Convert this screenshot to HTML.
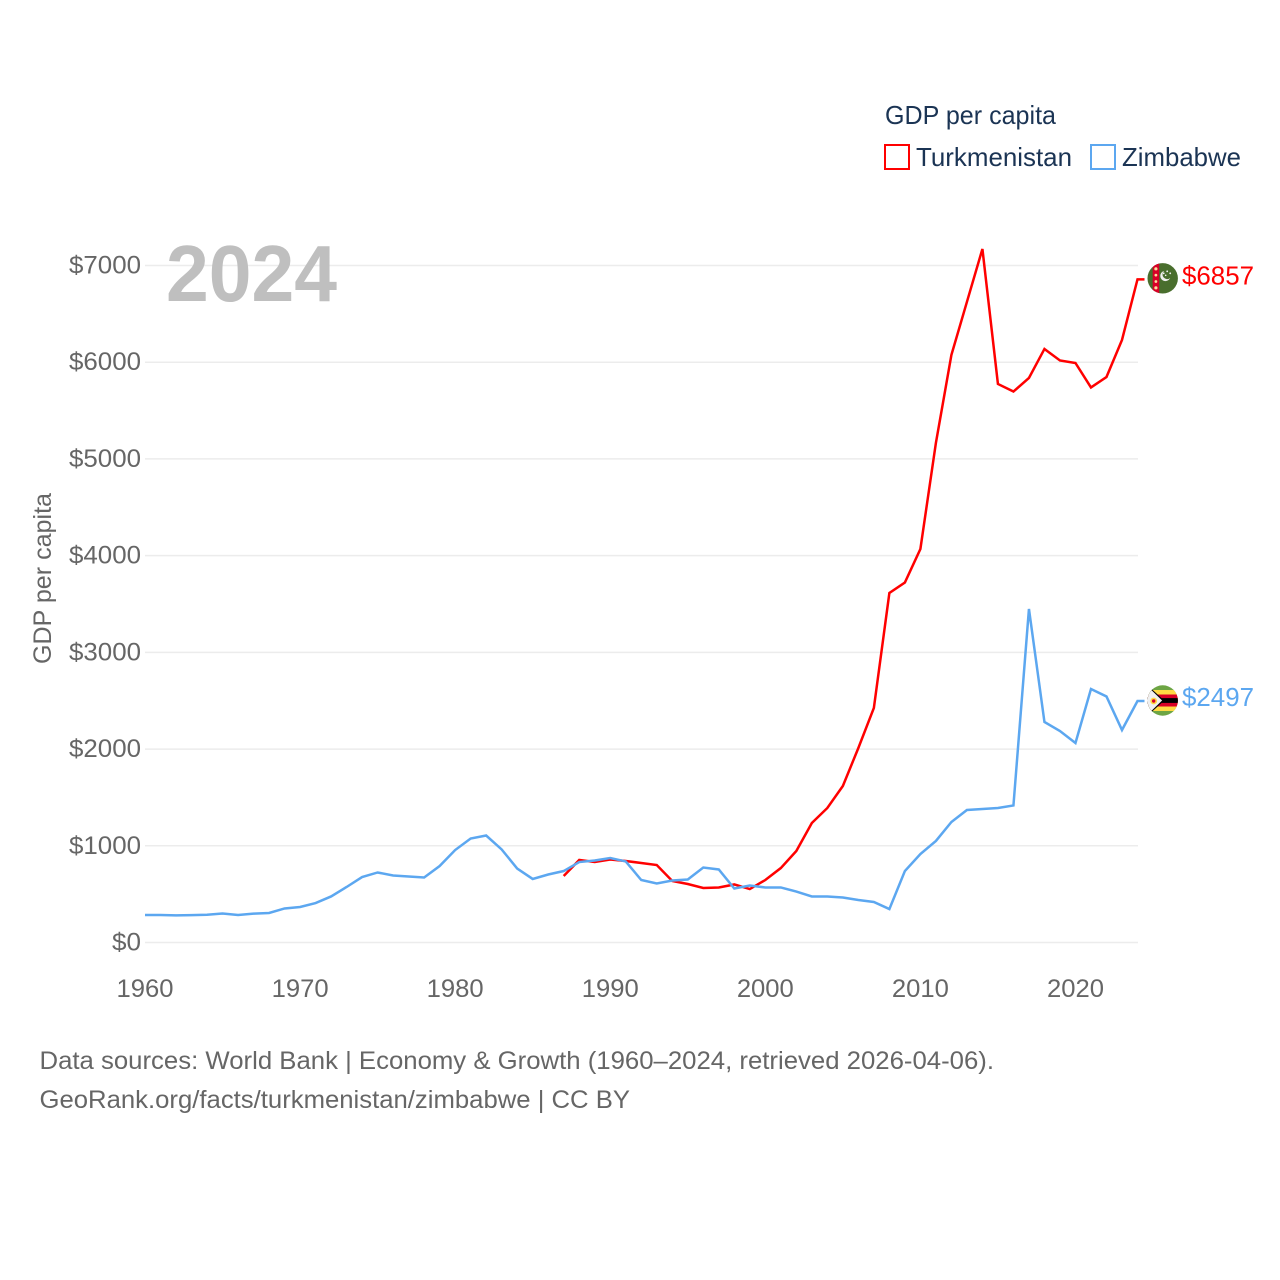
<!DOCTYPE html>
<html lang="en">
<head>
<meta charset="utf-8">
<title>GDP per capita: Turkmenistan and Zimbabwe</title>
<style>
html,body{margin:0;padding:0;background:#fff}
svg{display:block}
text{font-family:"Liberation Sans",sans-serif}
</style>
</head>
<body>
<svg id="chart" xmlns="http://www.w3.org/2000/svg" width="1280" height="1280" viewBox="0 0 1280 1280">
  <rect width="1280" height="1280" fill="#ffffff"/>
  <g id="grid"></g>
  <g id="yticks"></g>
  <g id="xticks"></g>
  <text x="166" y="301" font-size="80" font-weight="700" fill="#bfbfbf" textLength="171" lengthAdjust="spacingAndGlyphs">2024</text>
  <text transform="translate(51,664) rotate(-90)" font-size="25" fill="#666666" textLength="171" lengthAdjust="spacingAndGlyphs">GDP per capita</text>
  <g id="series"></g>

  <g>
    <text x="885" y="124" font-size="26" fill="#1b3454" textLength="171" lengthAdjust="spacingAndGlyphs">GDP per capita</text>
    <rect x="885" y="145" width="24" height="24" fill="#ffffff" stroke="#ff0000" stroke-width="2"/>
    <text x="916" y="166" font-size="26" fill="#1b3454" textLength="156" lengthAdjust="spacingAndGlyphs">Turkmenistan</text>
    <rect x="1091" y="145" width="24" height="24" fill="#ffffff" stroke="#5ca7f0" stroke-width="2"/>
    <text x="1122" y="166" font-size="26" fill="#1b3454" textLength="119" lengthAdjust="spacingAndGlyphs">Zimbabwe</text>
  </g>

  <defs>
    <clipPath id="flag-clip"><circle cx="0" cy="0" r="15.2"/></clipPath>
  </defs>

  <g id="flag-tm">
    <g clip-path="url(#flag-clip)">
      <rect x="-16" y="-16" width="32" height="32" fill="#496e2d"/>
      <rect x="-10" y="-16" width="6.5" height="32" fill="#d80027"/>
      <g fill="#ffda9e">
        <circle cx="-6.8" cy="-9.5" r="1.6"/>
        <circle cx="-6.8" cy="-3.2" r="1.4"/>
        <circle cx="-6.8" cy="3.2" r="1.4"/>
        <circle cx="-6.8" cy="9.5" r="1.6"/>
      </g>
      <path d="M1.5 -7.5 a5.2 5.2 0 1 0 6 7.2 a4.3 4.3 0 1 1 -6 -7.2z" fill="#f0f0f0"/>
      <g fill="#f0f0f0">
        <circle cx="1" cy="-5" r="0.9"/>
        <circle cx="4.5" cy="-7" r="0.9"/>
        <circle cx="7.5" cy="-5" r="0.9"/>
        <circle cx="3" cy="-3" r="0.8"/>
      </g>
    </g>
  </g>

  <g id="flag-zw">
    <g clip-path="url(#flag-clip)">
      <rect x="-16" y="-16" width="32" height="32" fill="#6da544"/>
      <rect x="-16" y="-10.5" width="32" height="21" fill="#ffda44"/>
      <rect x="-16" y="-6" width="32" height="12" fill="#d80027"/>
      <rect x="-16" y="-2.4" width="32" height="4.8" fill="#000000"/>
      <path d="M-16 -16 L1.5 0 L-16 16 Z" fill="#000000"/>
      <path d="M-16 -15 L-0.6 0 L-16 15 Z" fill="#f0f0f0"/>
      <circle cx="-9" cy="0.5" r="3.4" fill="#ffda44"/>
      <circle cx="-9" cy="0.5" r="1.7" fill="#d80027"/>
    </g>
  </g>

  <text id="value-tm" x="1182" font-size="26" fill="#ff0000" textLength="72" lengthAdjust="spacingAndGlyphs"></text>
  <text id="value-zw" x="1182" font-size="26" fill="#5ca7f0" textLength="72" lengthAdjust="spacingAndGlyphs"></text>

  <g>
    <text x="39.5" y="1069" font-size="25" fill="#666666" textLength="954.5" lengthAdjust="spacingAndGlyphs">Data sources: World Bank | Economy &amp; Growth (1960–2024, retrieved 2026-04-06).</text>
    <text x="39.5" y="1108" font-size="25" fill="#666666" textLength="590.5" lengthAdjust="spacingAndGlyphs">GeoRank.org/facts/turkmenistan/zimbabwe | CC BY</text>
  </g>
</svg>

<script>
const years = [1960,1961,1962,1963,1964,1965,1966,1967,1968,1969,1970,1971,1972,1973,1974,1975,1976,1977,1978,1979,1980,1981,1982,1983,1984,1985,1986,1987,1988,1989,1990,1991,1992,1993,1994,1995,1996,1997,1998,1999,2000,2001,2002,2003,2004,2005,2006,2007,2008,2009,2010,2011,2012,2013,2014,2015,2016,2017,2018,2019,2020,2021,2022,2023,2024];
const zimbabweValues = [284,284,280,283,287,300,284,298,305,352,367,408,476,574,677,724,693,683,672,791,956,1075,1106,962,765,657,703,739,832,848,874,838,646,610,641,651,775,755,558,589,569,569,527,476,476,465,439,419,346,739,915,1050,1246,1370,1380,1391,1417,3449,2280,2187,2063,2621,2544,2197,2497];
const turkmenistanYears = [1987,1988,1989,1990,1991,1992,1993,1994,1995,1996,1997,1998,1999,2000,2001,2002,2003,2004,2005,2006,2007,2008,2009,2010,2011,2012,2013,2014,2015,2016,2017,2018,2019,2020,2021,2022,2023,2024];
const turkmenistanValues = [688,853,832,858,843,822,801,636,605,564,569,600,553,646,770,946,1236,1391,1618,2011,2425,3614,3722,4069,5165,6075,6623,7171,5775,5697,5837,6137,6018,5992,5739,5847,6230,6857];
const yTickValues = [0,1000,2000,3000,4000,5000,6000,7000];
const yTickLabels = ["$0","$1000","$2000","$3000","$4000","$5000","$6000","$7000"];
const xTickValues = [1960,1970,1980,1990,2000,2010,2020];
const xTickLabels = ["1960","1970","1980","1990","2000","2010","2020"];

const NS = "http://www.w3.org/2000/svg";
const xScale = function (year) { return 145 + (year - 1960) * (992.5 / 64); };
const yScale = function (value) { return 942.5 - value * (677 / 7000); };
const TAIL = 7;

const gridGroup = document.getElementById("grid");
const yTickGroup = document.getElementById("yticks");
const xTickGroup = document.getElementById("xticks");
const seriesGroup = document.getElementById("series");

yTickValues.forEach(function (value, i) {
  const y = yScale(value);
  const line = document.createElementNS(NS, "line");
  
  
  line.setAttribute("x1", 145);
  line.setAttribute("x2", 1138);
  line.setAttribute("y1", y);
  line.setAttribute("y2", y);
  line.setAttribute("stroke", "#ececec");
  line.setAttribute("stroke-width", 1.5);
  gridGroup.appendChild(line);

  const label = document.createElementNS(NS, "text");
  
  
  label.setAttribute("x", 141);
  label.setAttribute("y", y + 8);
  label.setAttribute("text-anchor", "end");
  label.setAttribute("font-size", 25);
  label.setAttribute("fill", "#666666");
  label.setAttribute("textLength", yTickLabels[i].length === 2 ? 29 : 72);
  label.setAttribute("lengthAdjust", "spacingAndGlyphs");
  label.textContent = yTickLabels[i];
  yTickGroup.appendChild(label);
});

xTickValues.forEach(function (year, i) {
  const label = document.createElementNS(NS, "text");
  
  
  label.setAttribute("x", xScale(year));
  label.setAttribute("y", 997);
  label.setAttribute("text-anchor", "middle");
  label.setAttribute("font-size", 25);
  label.setAttribute("fill", "#666666");
  label.setAttribute("textLength", 57);
  label.setAttribute("lengthAdjust", "spacingAndGlyphs");
  label.textContent = xTickLabels[i];
  xTickGroup.appendChild(label);
});

function pathFor(xs, vs) {
  let d = "";
  xs.forEach(function (year, i) {
    d += (i ? " L" : "M") + xScale(year).toFixed(2) + " " + yScale(vs[i]).toFixed(2);
  });
  const last = vs[vs.length - 1];
  d += " L" + (xScale(xs[xs.length - 1]) + TAIL).toFixed(2) + " " + yScale(last).toFixed(2);
  return d;
}

const turkmenistanLine = document.createElementNS(NS, "path");


turkmenistanLine.setAttribute("d", pathFor(turkmenistanYears, turkmenistanValues));
turkmenistanLine.setAttribute("fill", "none");
turkmenistanLine.setAttribute("stroke", "#ff0000");
turkmenistanLine.setAttribute("stroke-width", 2.5);
seriesGroup.appendChild(turkmenistanLine);

const zimbabweLine = document.createElementNS(NS, "path");


zimbabweLine.setAttribute("d", pathFor(years, zimbabweValues));
zimbabweLine.setAttribute("fill", "none");
zimbabweLine.setAttribute("stroke", "#5ca7f0");
zimbabweLine.setAttribute("stroke-width", 2.5);
seriesGroup.appendChild(zimbabweLine);

const lastTm = turkmenistanValues[turkmenistanValues.length - 1];
const lastZw = zimbabweValues[zimbabweValues.length - 1];
document.getElementById("flag-tm").setAttribute("transform", "translate(1162.7," + (yScale(lastTm) - 1) + ")");
document.getElementById("flag-zw").setAttribute("transform", "translate(1162.7," + (yScale(lastZw) - 0.5) + ")");
const valueTm = document.getElementById("value-tm");
valueTm.setAttribute("y", yScale(lastTm) + 5);
valueTm.textContent = "$" + lastTm;
const valueZw = document.getElementById("value-zw");
valueZw.setAttribute("y", yScale(lastZw) + 5);
valueZw.textContent = "$" + lastZw;
</script>
</body>
</html>
